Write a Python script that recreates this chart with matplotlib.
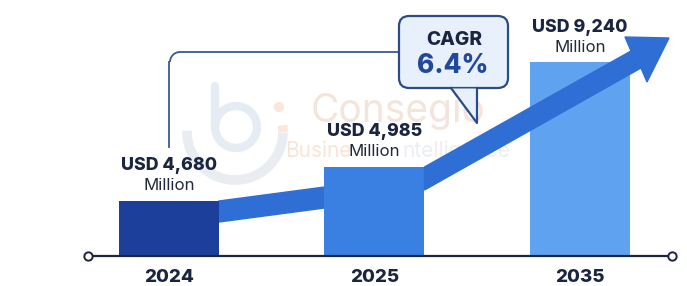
import matplotlib
matplotlib.use("Agg")
import matplotlib.pyplot as plt
import numpy as np
from matplotlib.patches import FancyBboxPatch, Polygon, Arc, Ellipse

# --- данные ---
years = ["2024", "2025", "2035"]
values = [4680, 4985, 9240]          # USD million
bar_heights = [55, 89, 194]          # нарисованная высота столбцов (не пропорциональна)
cagr = "6.4%"

bar_colors = ["#1d3f9c", "#3a80e2", "#5fa2ef"]
navy = "#1b2440"
arrow_col = "#2f6ed4"

plt.rcParams["font.family"] = ["Inter", "DejaVu Sans"]

fig = plt.figure(figsize=(6.87, 2.86), dpi=100)
ax = fig.add_axes([0, 0, 1, 1])
step = 205.5
x0_px = 169
ax.set_xlim(-x0_px / step, (687 - x0_px) / step)
ax.set_ylim(-30, 256)
ax.axis("off")


def px(x):
    # пиксели по x -> координаты осей
    return (x - x0_px) / step


def py(y):
    # пиксели по y (сверху) -> координаты осей
    return 256 - y


x = np.arange(len(years))
w = 100 / step

# --- водяной знак (логотип + текст) ---
lc = (px(235), py(132))
ax.add_patch(Arc(lc, 2 * 48 / step, 2 * 48, theta1=100, theta2=300,
                 color="#e9edf2", lw=7, zorder=0))
ax.add_patch(Arc(lc, 2 * 48 / step, 2 * 48, theta1=18, theta2=88,
                 color="#fbe7da", lw=7, zorder=0))
ax.add_patch(Arc((px(236), py(127)), 2 * 21 / step, 2 * 21, theta1=0, theta2=360,
                 color="#e6ecf4", lw=6, zorder=0))
ax.plot([px(215), px(215)], [py(86), py(127)], color="#e6ecf4", lw=6,
        solid_capstyle="round", zorder=0)
ax.add_patch(Ellipse((px(279), py(107)), 9 / step, 9, color="#fbe7da", zorder=0))

ax.text(px(311), py(111), "Consegio", color="#f3e4dc", fontsize=28, ha="left", va="center", zorder=0)
ax.text(px(285), py(151), "Busine", color="#f9e4d8", fontsize=15, ha="left", va="center", zorder=0)
ax.text(px(402), py(151), "ntelligence", color="#eceef2", fontsize=15, ha="left", va="center", zorder=0)

# --- столбцы ---
bars = ax.bar(x, bar_heights, width=w, color=bar_colors, zorder=2)

# --- стрелка роста ---
r0 = x[0] + w / 2
l1 = x[1] - w / 2
seg1 = Polygon([(r0, bar_heights[0]), (l1, bar_heights[0] + 14),
                (l1, bar_heights[0] - 7), (r0, bar_heights[0] - 21)],
               closed=True, color=arrow_col, zorder=1.5)
ax.add_patch(seg1)

r1 = x[1] + w / 2
seg2 = Polygon([(r1, bar_heights[1]), (px(631), py(51)), (px(625), py(37)),
                (px(669), py(38)), (px(647), py(82)), (px(641), py(68)),
                (r1, bar_heights[1] - 23)],
               closed=True, color=arrow_col, zorder=3)
ax.add_patch(seg2)

# --- подписи ---
for i, (v, h) in enumerate(zip(values, bar_heights)):
    ax.text(x[i], h + 35, f"USD {v:,}", ha="center", va="center",
            fontsize=12.8, fontweight="heavy", color=navy, zorder=4)
    ax.text(x[i], h + 15, "Million", ha="center", va="center",
            fontsize=12.2, color="#222a3a", zorder=4)
    ax.text(x[i], -21, years[i], ha="center", va="center",
            fontsize=13.5, fontweight="heavy", color=navy, zorder=4)

# --- базовая линия ---
ax.plot([px(88), px(672)], [0, 0], color=navy, lw=1.6, zorder=4, solid_capstyle="butt")
for xe in (px(88), px(672)):
    ax.plot(xe, 0, "o", ms=6, mfc="white", mec=navy, mew=1.4, zorder=5)

# --- соединительная линия к CAGR ---
line_col = "#3b5b8e"
ax.plot([x[0], x[0]], [py(147), py(62)], color=line_col, lw=1.3, zorder=1)
ax.plot([px(180), px(399)], [py(52), py(52)], color=line_col, lw=1.3, zorder=1)
ax.add_patch(Arc((px(180), py(62)), 2 * 10 / step, 20, theta1=90, theta2=180,
                 color=line_col, lw=1.3, zorder=1))

# --- плашка CAGR ---
box = FancyBboxPatch((px(399), py(88)), px(508) - px(399), 72,
                     boxstyle="round,pad=0,rounding_size=0.05",
                     mutation_aspect=200, fc="#e7f0fb", ec="#2c4c88", lw=1.6, zorder=5)
ax.add_patch(box)
tail = Polygon([(px(451), py(88.5)), (px(477), py(123)), (px(477), py(88.5))],
               closed=True, fc="#e7f0fb", ec="none", zorder=6)
ax.add_patch(tail)
ax.plot([px(451), px(477), px(477)], [py(88), py(123), py(88)],
        color="#2c4c88", lw=1.6, zorder=6)
ax.text(px(454), py(40), "CAGR", ha="center", va="center", fontsize=13.8,
        fontweight="heavy", color=navy, zorder=7)
ax.text(px(453), py(66), cagr, ha="center", va="center", fontsize=18.8,
        fontweight="heavy", color="#21489a", zorder=7)

fig.savefig("out.png", dpi=100, facecolor="white")
